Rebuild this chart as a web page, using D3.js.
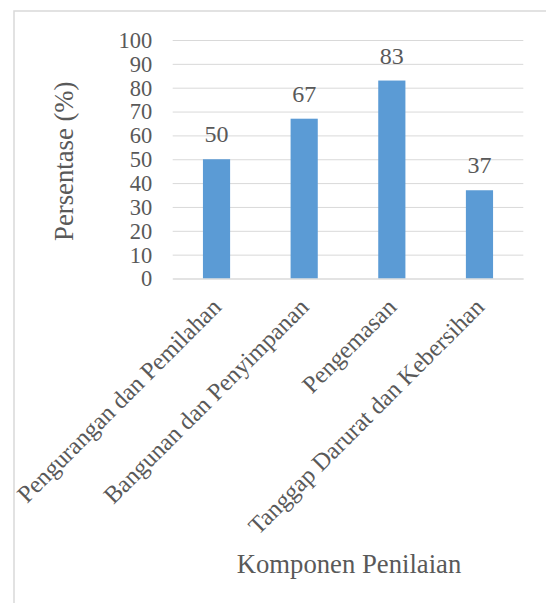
<!DOCTYPE html>
<html>
<head>
<meta charset="utf-8">
<script src="https://cdn.jsdelivr.net/npm/d3@7"></script>
<style>
  html, body { margin: 0; padding: 0; background: #fff; }
</style>
</head>
<body>
<script>
const categories = ["Pengurangan dan Pemilahan", "Bangunan dan Penyimpanan", "Pengemasan", "Tanggap Darurat dan Kebersihan"];
const values = [50, 67, 83, 37];
const yTicks = [0, 10, 20, 30, 40, 50, 60, 70, 80, 90, 100];
const yTitle = "Persentase (%)";
const xTitle = "Komponen Penilaian";

const W = 546, H = 603;
const plotLeft = 172.7, plotRight = 523.3, plotTop = 40, plotBottom = 278.5;
const textColor = "#595959";
const FONT = "'Liberation Serif'";

const svg = d3.select("body").append("svg").attr("width", W).attr("height", H)
  .style("display", "block").style("font-family", FONT);

// frame (top + left edge visible)
svg.append("path")
  .attr("d", `M14,${H} L14,11 L${W},11`)
  .attr("fill", "none").attr("stroke", "#d9d9d9").attr("stroke-width", 1.5);

const x = d3.scaleBand().domain(categories).range([plotLeft, plotRight]).paddingInner(0.69).paddingOuter(0.345);
const y = d3.scaleLinear().domain([0, 100]).range([plotBottom, plotTop]);

// gridlines + tick labels via axis
const yAxis = d3.axisLeft(y).tickValues(yTicks).tickSize(-(plotRight - plotLeft)).tickPadding(20.5);
const gy = svg.append("g").attr("transform", `translate(${plotLeft},0)`).call(yAxis)
  .attr("font-family", null).attr("font-size", null);
gy.select(".domain").remove();
gy.selectAll(".tick line").attr("stroke", "#d9d9d9").attr("stroke-width", 1);
gy.selectAll(".tick text")
  .attr("fill", textColor)
  .style("font-family", FONT)
  .style("font-size", "22.5px")
  .attr("dy", "0.33em");

// bars
svg.append("g").selectAll("rect").data(values).join("rect")
  .attr("x", (d, i) => x(categories[i]))
  .attr("width", x.bandwidth())
  .attr("y", d => y(d))
  .attr("height", d => y(0) - y(d))
  .attr("fill", "#5b9bd5");

// x axis line
const xAxis = d3.axisBottom(x).tickSize(0).tickFormat("");
const gx = svg.append("g").attr("transform", `translate(0,${plotBottom})`).call(xAxis);
gx.select(".domain").attr("stroke", "#d9d9d9").attr("stroke-width", 1.2);

// data labels
svg.append("g").selectAll("text").data(values).join("text")
  .attr("x", (d, i) => x(categories[i]) + x.bandwidth() / 2)
  .attr("y", d => y(d) - 17)
  .attr("text-anchor", "middle")
  .attr("fill", textColor)
  .style("font-family", FONT)
  .style("font-size", "24px")
  .text(d => d);

// category labels rotated
svg.append("g").selectAll("text").data(categories).join("text")
  .attr("transform", d => `translate(${x(d) + x.bandwidth() / 2 + 6},${plotBottom + 30}) rotate(-45)`)
  .attr("text-anchor", "end")
  .attr("fill", textColor)
  .style("font-family", FONT)
  .style("font-size", "24.3px")
  .text(d => d);

// axis titles
svg.append("text")
  .attr("transform", `translate(73,${(plotTop + plotBottom) / 2 + 2}) rotate(-90)`)
  .attr("text-anchor", "middle")
  .attr("fill", textColor)
  .style("font-family", FONT)
  .style("font-size", "26.7px")
  .text(yTitle);

svg.append("text")
  .attr("x", (plotLeft + plotRight) / 2 + 1)
  .attr("y", 573)
  .attr("text-anchor", "middle")
  .attr("fill", textColor)
  .style("font-family", FONT)
  .style("font-size", "26.7px")
  .text(xTitle);
</script>
</body>
</html>
